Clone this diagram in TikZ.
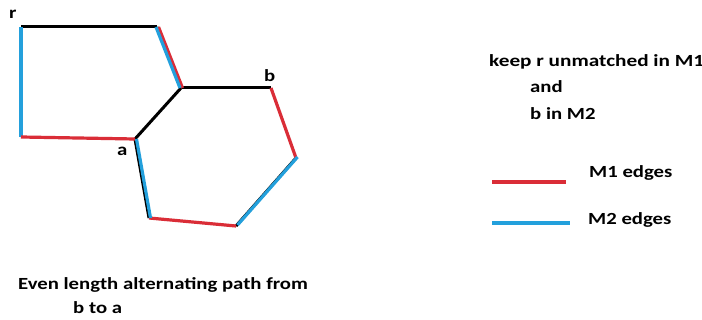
\documentclass[tikz,border=0pt]{standalone}
\usepackage{fontspec}
\usepackage{graphicx}
\setmainfont{Carlito}
\definecolor{mred}{RGB}{218,45,55}
\definecolor{mblue}{RGB}{35,160,220}
\newcommand{\stretchtxt}[2][1.22]{\scalebox{#1}[1]{#2}}
\begin{document}
\begin{tikzpicture}[x=1pt,y=-1pt,
  blk/.style={line width=3pt,black},
  redE/.style={line width=3.2pt,mred},
  blueE/.style={line width=3.2pt,mblue},
  lbl/.style={font=\bfseries\fontsize{17}{20}\selectfont,inner sep=0pt,anchor=base west}]
\useasboundingbox (0,0) rectangle (702,320);
\fill[white] (0,0) rectangle (702,320);
% vertices
\coordinate (r) at (21,27);
\coordinate (tr) at (157,27);
\coordinate (c) at (181,88);
\coordinate (bl) at (21,137);
\coordinate (a) at (135,139);
\coordinate (b) at (271,88);
\coordinate (p) at (296,158);
\coordinate (q) at (236,226);
\coordinate (s) at (149,218);
% black base edges
\draw[blk] (r) -- (tr);
\draw[blk] (tr) -- (c);
\draw[blk] (c) -- (a);
\draw[blk] (c) -- (b);
\draw[blk] (p) -- (q);
\draw[blk] (s) -- (a);
% coloured edges
\draw[blueE] (r) -- (bl);
\draw[redE] (bl) -- (a);
\draw[redE] ([xshift=1.5pt]tr) -- ([xshift=1.5pt]c);
\draw[blueE] ([xshift=-1pt]tr) -- ([xshift=-1pt]c);
\draw[redE] (b) -- (p);
\draw[blueE] ([xshift=1.5pt,yshift=1pt]p) -- ([xshift=1.5pt,yshift=1pt]q);
\draw[redE] (q) -- (s);
\draw[blueE] ([xshift=1.5pt]s) -- ([xshift=1.5pt]a);
% vertex labels
\node[lbl] (lr) at (9,19) {\stretchtxt{r}};
\node[lbl] (lb) at (264,82) {\stretchtxt{b}};
\node[lbl] (la) at (117,156) {\stretchtxt{a}};
% text
\node[lbl] (t1) at (489,67) {\stretchtxt[1.25]{keep r unmatched in M1}};
\node[lbl] (t2) at (530,93) {\stretchtxt{and}};
\node[lbl] (t3) at (530,120) {\stretchtxt{b in M2}};
% legend
\coordinate (l1a) at (492,182);
\coordinate (l1b) at (566,182);
\draw[redE] (l1a) -- (l1b);
\node[lbl] (m1) at (589,178) {\stretchtxt{M1 edges}};
\coordinate (l2a) at (492,223);
\coordinate (l2b) at (570,223);
\draw[blueE] (l2a) -- (l2b);
\node[lbl] (m2) at (588,225) {\stretchtxt{M2 edges}};
% bottom
\node[lbl] (e1) at (18,290) {\stretchtxt{Even length alternating path from}};
\node[lbl] (e2) at (73,314) {\stretchtxt{b to a}};
\end{tikzpicture}
\end{document}
